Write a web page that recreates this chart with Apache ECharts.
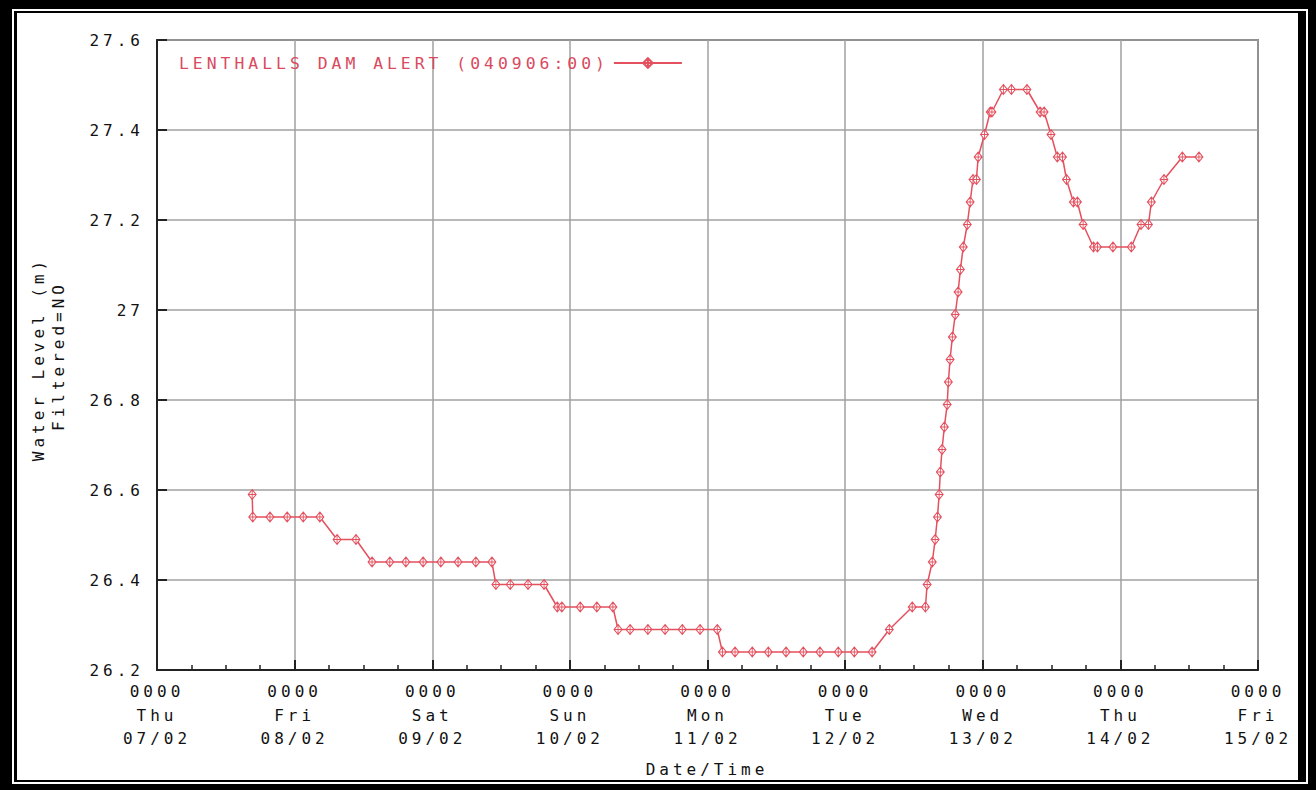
<!DOCTYPE html>
<html>
<head>
<meta charset="utf-8">
<script src="https://cdn.jsdelivr.net/npm/echarts@6/dist/echarts.min.js"></script>
<style>
  html, body { margin: 0; padding: 0; background: #fff; }
  #chart { width: 1316px; height: 790px; }
  #chart text { letter-spacing: 4px; }
</style>
</head>
<body>
<div id="chart"></div>
<script>
// Hours since 0000 Thu 07/02
const times = [16.6, 16.7, 19.7, 22.7, 25.5, 28.4, 31.4, 34.7, 37.5, 40.6, 43.4, 46.4, 49.5, 52.5, 55.6, 58.4,
  59.1, 61.6, 64.7, 67.5, 69.8, 70.6, 73.8, 76.7, 79.5, 80.4, 82.5, 85.6, 88.6, 91.6, 94.7, 97.7,
  98.6, 100.8, 103.8, 106.6, 109.7, 112.7, 115.6, 118.8, 121.6, 124.7, 127.7, 131.7, 134.0, 134.3,
  135.2, 135.7, 136.1, 136.4, 136.6, 136.9, 137.3, 137.8, 138.0, 138.3, 138.7, 139.2, 139.7, 140.1,
  140.6, 141.3, 141.8, 142.3, 142.9, 143.2, 144.3, 145.3, 145.6, 147.6, 149.0, 151.7, 154.0, 154.7,
  155.9, 157.0, 157.9, 158.6, 159.8, 160.5, 161.5, 163.3, 164.0, 166.7, 169.9, 171.6, 172.9, 173.4,
  175.6, 178.8, 181.7];
const levels = [26.59, 26.54, 26.54, 26.54, 26.54, 26.54, 26.49, 26.49, 26.44, 26.44, 26.44, 26.44, 26.44, 26.44, 26.44, 26.44,
  26.39, 26.39, 26.39, 26.39, 26.34, 26.34, 26.34, 26.34, 26.34, 26.29, 26.29, 26.29, 26.29, 26.29, 26.29, 26.29,
  26.24, 26.24, 26.24, 26.24, 26.24, 26.24, 26.24, 26.24, 26.24, 26.24, 26.29, 26.34, 26.34, 26.39,
  26.44, 26.49, 26.54, 26.59, 26.64, 26.69, 26.74, 26.79, 26.84, 26.89, 26.94, 26.99, 27.04, 27.09,
  27.14, 27.19, 27.24, 27.29, 27.29, 27.34, 27.39, 27.44, 27.44, 27.49, 27.49, 27.49, 27.44, 27.44,
  27.39, 27.34, 27.34, 27.29, 27.24, 27.24, 27.19, 27.14, 27.14, 27.14, 27.14, 27.19, 27.19, 27.24,
  27.29, 27.34, 27.34];
const tickTimes = ['0000', '0000', '0000', '0000', '0000', '0000', '0000', '0000', '0000'];
const tickDays = ['Thu', 'Fri', 'Sat', 'Sun', 'Mon', 'Tue', 'Wed', 'Thu', 'Fri'];
const tickDates = ['07/02', '08/02', '09/02', '10/02', '11/02', '12/02', '13/02', '14/02', '15/02'];
const seriesName = 'LENTHALLS DAM ALERT (040906:00)';

const data = times.map((t, i) => [t, levels[i]]);
const FONT = 'DejaVu Sans Mono';
const RED = '#e4505e';

const chart = echarts.init(document.getElementById('chart'), null, { renderer: 'svg' });
chart.setOption({
  animation: false,
  backgroundColor: '#fff',
  grid: { left: 157, top: 40, right: 58, bottom: 120, show: true, borderColor: '#333', borderWidth: 1.5, backgroundColor: 'transparent' },
  legend: {
    left: 298, top: 50,
    align: 'right',
    itemWidth: 68, itemHeight: 12,
    data: [seriesName],
    textStyle: { color: '#d94a5e', fontFamily: FONT, fontSize: 16.4 }
  },
  xAxis: {
    type: 'value', min: 0, max: 192, interval: 24,
    axisLine: { show: true, lineStyle: { color: '#222', width: 2 } },
    axisTick: { show: true, inside: true, length: 10, lineStyle: { color: '#222', width: 2 } },
    minorTick: { show: true, splitNumber: 4, length: 5, lineStyle: { color: '#222', width: 1.5 } },
    splitLine: { show: true, lineStyle: { color: '#a0a0a0', width: 1.5 } },
    axisLabel: {
      color: '#111', fontFamily: FONT, fontSize: 16, lineHeight: 23.5, margin: 10,
      formatter: function (v) { const i = Math.round(v / 24); return tickTimes[i] + '\n' + tickDays[i] + '\n' + tickDates[i]; }
    }
  },
  yAxis: {
    type: 'value', min: 26.2, max: 27.6, interval: 0.2,
    axisLine: { show: true, lineStyle: { color: '#222', width: 2 } },
    axisTick: { show: true, inside: true, length: 10, lineStyle: { color: '#222', width: 2 } },
    splitLine: { show: true, lineStyle: { color: '#a0a0a0', width: 1.5 } },
    axisLabel: {
      color: '#111', fontFamily: FONT, fontSize: 16, margin: 13,
      formatter: function (v) { return String(parseFloat(v.toFixed(1))); }
    }
  },
  series: [{
    name: seriesName,
    type: 'line',
    data: data,
    symbol: 'path://M0,-5L4,0L0,5L-4,0Z M0,-5L0,5 M-4,0L4,0',
    symbolSize: [8, 10],
    showAllSymbol: true,
    lineStyle: { color: RED, width: 1.5 },
    itemStyle: { color: '#fff', borderColor: RED, borderWidth: 1 }
  }],
  graphic: [
    { type: 'rect', shape: { x: 0, y: 0, width: 12, height: 790 }, style: { fill: '#000' }, silent: true },
    { type: 'rect', shape: { x: 0, y: 0, width: 1316, height: 9 }, style: { fill: '#000' }, silent: true },
    { type: 'rect', shape: { x: 1308, y: 0, width: 8, height: 790 }, style: { fill: '#000' }, silent: true },
    { type: 'rect', shape: { x: 0, y: 784, width: 1316, height: 6 }, style: { fill: '#000' }, silent: true },
    { type: 'rect', shape: { x: 14, y: 11, width: 3, height: 771 }, style: { fill: '#000' }, silent: true },
    { type: 'rect', shape: { x: 14, y: 11, width: 1292, height: 2 }, style: { fill: '#000' }, silent: true },
    { type: 'rect', shape: { x: 1298, y: 11, width: 8, height: 771 }, style: { fill: '#000' }, silent: true },
    { type: 'rect', shape: { x: 14, y: 780, width: 1292, height: 2 }, style: { fill: '#000' }, silent: true },
    { type: 'text', x: 38, y: 359, rotation: Math.PI / 2, style: { text: 'Water Level (m)', fill: '#111', font: '16px "DejaVu Sans Mono"', textAlign: 'center', textVerticalAlign: 'middle' }, silent: true },
    { type: 'text', x: 58, y: 356, rotation: Math.PI / 2, style: { text: 'Filtered=NO', fill: '#111', font: '16px "DejaVu Sans Mono"', textAlign: 'center', textVerticalAlign: 'middle' }, silent: true },
    { type: 'text', x: 707, y: 769, style: { text: 'Date/Time', fill: '#111', font: '16px "DejaVu Sans Mono"', textAlign: 'center', textVerticalAlign: 'middle' }, silent: true }
  ]
});
</script>
</body>
</html>
